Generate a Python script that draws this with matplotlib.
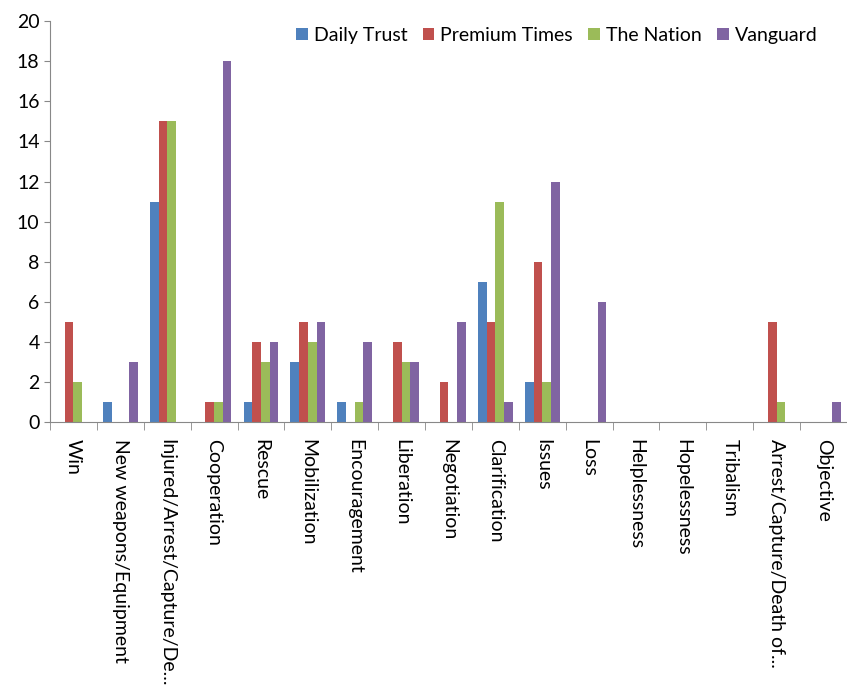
import numpy as np
import matplotlib.pyplot as plt

plt.rcParams['font.family'] = ['Lato', 'DejaVu Sans']

# Data
categories = ["Win", "New weapons/Equipment", "Injured/Arrest/Capture/De...", "Cooperation",
              "Rescue", "Mobilization", "Encouragement", "Liberation", "Negotiation",
              "Clarification", "Issues", "Loss", "Helplessness", "Hopelessness",
              "Tribalism", "Arrest/Capture/Death of...", "Objective"]
daily_trust = [0, 1, 11, 0, 1, 3, 1, 0, 0, 7, 2, 0, 0, 0, 0, 0, 0]
premium_times = [5, 0, 15, 1, 4, 5, 0, 4, 2, 5, 8, 0, 0, 0, 0, 5, 0]
the_nation = [2, 0, 15, 1, 3, 4, 1, 3, 0, 11, 2, 0, 0, 0, 0, 1, 0]
vanguard = [0, 3, 0, 18, 4, 5, 4, 3, 5, 1, 12, 6, 0, 0, 0, 0, 1]

series = [("Daily Trust", daily_trust, "#4F81BD"),
          ("Premium Times", premium_times, "#C0504D"),
          ("The Nation", the_nation, "#9BBB59"),
          ("Vanguard", vanguard, "#8064A2")]

fig = plt.figure(figsize=(8.47, 6.86), dpi=100)
ax = fig.add_axes([0.059, 0.385, 0.941, 0.584])

x = np.arange(len(categories))
w = 0.185
for i, (name, vals, color) in enumerate(series):
    ax.bar(x + (i - 1.5) * w, vals, width=w, color=color, label=name)

ax.set_xlim(-0.5, len(categories) - 0.5)
ax.set_ylim(0, 20)
ax.set_yticks(range(0, 21, 2))
ax.tick_params(axis='y', labelsize=14, length=4, color='#888888', direction='out')

ax.set_xticks(x)
ax.set_xticklabels(categories, rotation=270, fontsize=14, va='top', ha='center')
ax.set_xticks(np.arange(-0.5, len(categories), 1), minor=True)
ax.tick_params(axis='x', which='major', length=0, pad=12)
ax.tick_params(axis='x', which='minor', length=6, color='#888888', direction='out')

for s in ['top', 'right']:
    ax.spines[s].set_visible(False)
for s in ['left', 'bottom']:
    ax.spines[s].set_color('#888888')

ax.legend(loc='upper right', bbox_to_anchor=(0.985, 1.03), ncol=4, frameon=False,
          fontsize=14, handlelength=0.6, handleheight=0.6, handletextpad=0.3,
          columnspacing=0.8)

plt.savefig("out.png", dpi=100)
